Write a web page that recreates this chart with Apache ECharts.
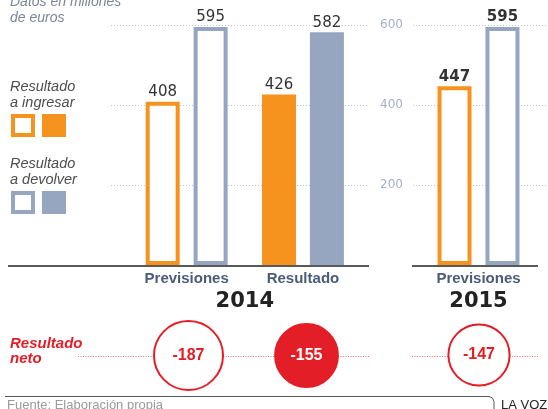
<!DOCTYPE html>
<html>
<head>
<meta charset="utf-8">
<script src="https://cdn.jsdelivr.net/npm/echarts@6/dist/echarts.min.js"></script>
<style>
  html, body { margin: 0; padding: 0; background: #fff; }
  #chart { width: 548px; height: 409px; }
</style>
</head>
<body>
<div id="chart"></div>
<script>
// Datos en millones de euros
const categories2014 = ['Previsiones', 'Resultado'];
const categories2015 = ['Previsiones'];
const ingresar2014 = [408, 426];
const devolver2014 = [595, 582];
const ingresar2015 = [447];
const devolver2015 = [595];
const neto2014 = [-187, -155];
const neto2015 = [-147];
const years = ['2014', '2015'];
const yTickMin = 200, yTickMax = 600, yTickStep = 200;

const ORANGE = '#f6921e';
const BLUE = '#96a6c1';
const RED = '#e31e26';
const GRID_LINE = '#b9c7da';

// "Resultado" columns are filled, forecasts are outlined
function barItems(values, cats, color) {
  return values.map((v, i) => ({
    value: v,
    itemStyle: {
      color: cats[i] === 'Resultado' ? color : '#fff',
      borderColor: color,
      borderWidth: 4
    }
  }));
}

function netItems(values, cats) {
  return values.map((v, i) => {
    const filled = cats[i] === 'Resultado';
    return {
      value: [cats[i], 'neto', v],
      itemStyle: { color: filled ? RED : '#fff', borderColor: RED, borderWidth: 2, opacity: 1 },
      label: { color: filled ? '#fff' : RED }
    };
  });
}

const valueLabel = (bold) => ({
  show: true,
  position: 'top',
  distance: 2,
  fontFamily: 'DejaVu Sans',
  fontSize: 15,
  fontWeight: bold ? 'bold' : 'normal',
  color: '#333'
});

const catAxis = (gridIndex, data, name) => ({
  type: 'category',
  gridIndex,
  data,
  axisLine: { show: false },
  axisTick: { show: false },
  axisLabel: {
    margin: 6,
    fontFamily: 'Liberation Sans',
    fontWeight: 'bold',
    fontSize: 15,
    lineHeight: 15,
    color: '#4b5b78'
  },
  name,
  nameLocation: 'middle',
  nameGap: 23,
  nameTextStyle: {
    fontFamily: 'DejaVu Sans',
    fontWeight: 'bold',
    fontSize: 21,
    lineHeight: 21,
    color: '#222'
  }
});

const hiddenCat = (gridIndex, data) => ({ type: 'category', gridIndex, data, show: false });
const hiddenValue = (gridIndex) => ({ type: 'value', gridIndex, min: 0, max: 600, show: false });

const gridValueAxis = (gridIndex, showLabels) => ({
  type: 'value',
  gridIndex,
  min: yTickMin,
  max: yTickMax,
  interval: yTickStep,
  axisLine: { show: false },
  axisTick: { show: false },
  axisLabel: {
    show: showLabels,
    margin: 10,
    fontFamily: 'DejaVu Sans',
    fontSize: 12,
    color: '#a3b1c8'
  },
  splitLine: { show: true, lineStyle: { color: GRID_LINE, width: 1, type: [1, 2] } }
});

const netSize = (d) => 69 * Math.sqrt(Math.abs(d[2]) / 187);
const netLabel = {
  show: true, position: 'inside', formatter: (p) => p.value[2],
  fontFamily: 'Liberation Sans', fontWeight: 'bold', fontSize: 16
};

const chart = echarts.init(document.getElementById('chart'));

chart.setOption({
  animation: false,
  grid: [
    { left: 111, top: 25, width: 258, height: 160 },     // 0 gridlines 2014
    { left: 413, top: 25, width: 135, height: 160 },     // 1 gridlines 2015 + labels
    { left: 128.5, top: 25, width: 232.6, height: 240 }, // 2 bars 2014
    { left: 420.5, top: 25, width: 116, height: 240 },   // 3 bars 2015
    { left: 129.5, top: 340, width: 236, height: 31 },   // 4 net 2014
    { left: 421, top: 339.5, width: 116, height: 31 }    // 5 net 2015
  ],
  xAxis: [
    { type: 'value', gridIndex: 0, min: 0, max: 1, show: false },
    { type: 'value', gridIndex: 1, min: 0, max: 1, show: false },
    catAxis(2, categories2014, years[0]),
    catAxis(3, categories2015, years[1]),
    hiddenCat(4, categories2014),
    hiddenCat(5, categories2015)
  ],
  yAxis: [
    gridValueAxis(0, false),
    gridValueAxis(1, true),
    hiddenValue(2),
    hiddenValue(3),
    hiddenCat(4, ['neto']),
    hiddenCat(5, ['neto'])
  ],
  series: [
    {
      name: 'Resultado a ingresar', type: 'bar', xAxisIndex: 2, yAxisIndex: 2,
      barWidth: 34, barGap: '41%',
      data: barItems(ingresar2014, categories2014, ORANGE),
      label: valueLabel(false)
    },
    {
      name: 'Resultado a devolver', type: 'bar', xAxisIndex: 2, yAxisIndex: 2,
      barWidth: 34, barGap: '41%',
      data: barItems(devolver2014, categories2014, BLUE),
      label: valueLabel(false)
    },
    {
      name: 'Resultado a ingresar', type: 'bar', xAxisIndex: 3, yAxisIndex: 3,
      barWidth: 34, barGap: '41%',
      data: barItems(ingresar2015, categories2015, ORANGE),
      label: valueLabel(true)
    },
    {
      name: 'Resultado a devolver', type: 'bar', xAxisIndex: 3, yAxisIndex: 3,
      barWidth: 34, barGap: '41%',
      data: barItems(devolver2015, categories2015, BLUE),
      label: valueLabel(true)
    },
    {
      name: 'Resultado neto', type: 'scatter', xAxisIndex: 4, yAxisIndex: 4,
      data: netItems(neto2014, categories2014),
      symbolSize: netSize,
      label: netLabel
    },
    {
      name: 'Resultado neto', type: 'scatter', xAxisIndex: 5, yAxisIndex: 5,
      data: netItems(neto2015, categories2015),
      symbolSize: netSize,
      label: netLabel
    }
  ],
  graphic: [
    // note at top
    { type: 'text', x: 10, y: -5.6, style: {
      text: 'Datos en millones\nde euros', lineHeight: 16, verticalAlign: 'top',
      font: 'italic 14px "Liberation Sans"', fill: '#7b8596' } },
    // legend
    { type: 'text', x: 10, y: 79.4, style: {
      text: 'Resultado\na ingresar', lineHeight: 16, verticalAlign: 'top',
      font: 'italic 14.5px "Liberation Sans"', fill: '#4d4d4d' } },
    { type: 'rect', shape: { x: 13, y: 116, width: 20, height: 19 },
      style: { fill: '#fff', stroke: ORANGE, lineWidth: 4 } },
    { type: 'rect', shape: { x: 42, y: 114, width: 24, height: 23 },
      style: { fill: ORANGE } },
    { type: 'text', x: 10, y: 156, style: {
      text: 'Resultado\na devolver', lineHeight: 16, verticalAlign: 'top',
      font: 'italic 14.5px "Liberation Sans"', fill: '#4d4d4d' } },
    { type: 'rect', shape: { x: 13, y: 193, width: 20, height: 19 },
      style: { fill: '#fff', stroke: BLUE, lineWidth: 4 } },
    { type: 'rect', shape: { x: 42, y: 191, width: 24, height: 23 },
      style: { fill: BLUE } },
    // baselines
    { type: 'line', shape: { x1: 8, y1: 266, x2: 369, y2: 266 },
      style: { stroke: '#222', lineWidth: 1.5 }, z: 10 },
    { type: 'line', shape: { x1: 412, y1: 266, x2: 538, y2: 266 },
      style: { stroke: '#222', lineWidth: 1.5 }, z: 10 },
    // net result row
    { type: 'text', x: 10, y: 336, style: {
      text: 'Resultado\nneto', lineHeight: 15.5, verticalAlign: 'top',
      font: 'italic bold 15px "Liberation Sans"', fill: RED } },
    { type: 'line', shape: { x1: 78, y1: 356.5, x2: 369, y2: 356.5 },
      style: { stroke: '#ee7075', lineWidth: 1, lineDash: [1, 1.5] } },
    { type: 'line', shape: { x1: 412, y1: 356.5, x2: 538, y2: 356.5 },
      style: { stroke: '#ee7075', lineWidth: 1, lineDash: [1, 1.5] } },
    // footer
    { type: 'polyline', shape: { points: [[5, 396.5], [489, 396.5], [492.5, 398], [494, 401.5], [494, 412]] },
      style: { fill: null, stroke: '#555', lineWidth: 1 } },
    { type: 'text', x: 7, y: 405.5, style: {
      text: 'Fuente: Elaboración propia', verticalAlign: 'middle',
      font: '13px "Liberation Sans"', fill: '#9a9a9a' } },
    { type: 'text', x: 501, y: 405, style: {
      text: 'LA VOZ', verticalAlign: 'middle',
      font: '13px "Liberation Sans"', fill: '#222' } }
  ]
});
</script>
</body>
</html>
